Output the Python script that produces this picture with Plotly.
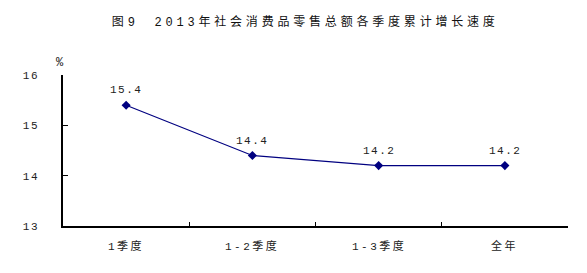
import plotly.graph_objects as go

categories = ["1季度", "1-2季度", "1-3季度", "全年"]
values = [15.4, 14.4, 14.2, 14.2]
value_labels = ["15.4", "14.4", "14.2", "14.2"]
y_ticks = [13, 14, 15, 16]
title_text = "图9　2013年社会消费品零售总额各季度累计增长速度"
unit_text = "%"

FONT = "Liberation Mono, Noto Sans CJK SC, monospace"
NAVY = "#000080"


def spaced(s, px):
    return '<span style="letter-spacing:%spx">%s</span>' % (px, s)


fig = go.Figure()
fig.add_trace(go.Scatter(
    x=categories, y=values,
    mode="lines+markers",
    line=dict(color=NAVY, width=1.2),
    marker=dict(symbol="diamond", size=7, color=NAVY),
    cliponaxis=False,
    hoverinfo="skip",
))

for c, v, lab in zip(categories, values, value_labels):
    fig.add_annotation(
        x=c, y=v, xref="x", yref="y", text=spaced(lab, 1.5),
        showarrow=False, yanchor="bottom", yshift=7,
        font=dict(family=FONT, size=11, color="#222222"),
    )

fig.update_layout(
    width=587, height=273,
    margin=dict(l=63, r=19, t=75, b=47),
    paper_bgcolor="white", plot_bgcolor="white",
    showlegend=False,
    font=dict(family=FONT, size=11, color="#222222"),
    title=dict(
        text=spaced(title_text, 3.8),
        x=0.52, xanchor="center", y=0.92, yanchor="middle",
        font=dict(family=FONT, size=12, color="#111111"),
    ),
    xaxis=dict(
        type="category", range=[-0.5, 3.5],
        showline=True, linecolor="black", linewidth=1.5,
        showgrid=False, zeroline=False,
        ticks="inside", ticklen=4, tickcolor="black",
        tickmode="array", tickvals=[-0.5, 0.5, 1.5, 2.5, 3.5], ticktext=["", "", "", "", ""],
        fixedrange=True,
    ),
    yaxis=dict(
        range=[13, 16], tickmode="array", tickvals=y_ticks,
        ticktext=[spaced(str(t), 1.5) for t in y_ticks],
        showline=True, linecolor="black", linewidth=1.5,
        showgrid=False, zeroline=False,
        ticks="inside", ticklen=5, tickcolor="black",
        ticklabelstandoff=20,
        tickfont=dict(family=FONT, size=11, color="#222222"),
        fixedrange=True,
    ),
)

for i, c in enumerate(categories):
    fig.add_annotation(
        x=i, y=0, xref="x", yref="paper",
        text=spaced(c, 2.5),
        showarrow=False, yanchor="top", yshift=-11,
        font=dict(family=FONT, size=11, color="#222222"),
    )

fig.add_annotation(
    x=0, y=1, xref="paper", yref="paper", text=unit_text,
    showarrow=False, xanchor="center", yanchor="bottom", xshift=-3, yshift=3,
    font=dict(family=FONT, size=12, color="#222222"),
)

fig.write_html("out.html")
